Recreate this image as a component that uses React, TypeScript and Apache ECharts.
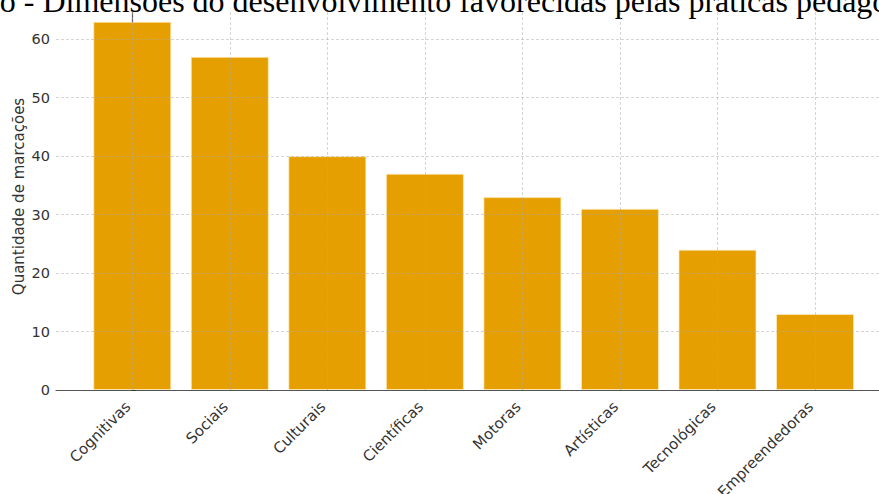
import React, { useEffect, useRef } from "react";
import * as echarts from "echarts";

const categories = [
  "Cognitivas",
  "Sociais",
  "Culturais",
  "Científicas",
  "Motoras",
  "Artísticas",
  "Tecnológicas",
  "Empreendedoras",
];
const values = [63, 57, 40, 37, 33, 31, 24, 13];
const yTicks = [0, 10, 20, 30, 40, 50, 60];
const titleText =
  "Gráfico - Dimensões do desenvolvimento favorecidas pelas práticas pedagógicas";
const yAxisTitle = "Quantidade de marcações";

export default function App() {
  const ref = useRef<HTMLDivElement>(null);

  useEffect(() => {
    if (!ref.current) return;
    const chart = echarts.init(ref.current, undefined, { renderer: "svg" });
    const xIdx = categories.map((_, i) => i);
    const gridStyle = {
      type: [3, 2] as number[],
      color: "rgba(170,170,170,0.55)",
      width: 0.9,
    };
    const option: any = {
      animation: false,
      backgroundColor: "#ffffff",
      grid: {
        left: 56,
        right: 0,
        top: 12,
        bottom: 104,
        containLabel: false,
        outerBoundsMode: "none",
      },
      xAxis: {
        type: "value",
        min: -0.782,
        max: 7.656,
        splitLine: { show: false },
        axisLine: { show: true, lineStyle: { color: "#555", width: 1.2 } },
        axisTick: {
          show: true,
          inside: true,
          length: 4,
          customValues: xIdx,
          lineStyle: { color: "#333", width: 1 },
        },
        axisLabel: {
          customValues: xIdx,
          rotate: 45,
          margin: 10,
          padding: [0, 6, 0, 0],
          fontFamily: "DejaVu Sans",
          fontSize: 15,
          color: "#333",
          formatter: (v: number) => categories[Math.round(v)] ?? "",
        },
      },
      yAxis: {
        type: "value",
        min: 0,
        max: 64.67,
        splitLine: { show: false },
        axisLine: { show: true, lineStyle: { color: "#555", width: 1.2 } },
        axisTick: {
          show: true,
          inside: true,
          length: 4,
          customValues: yTicks,
          lineStyle: { color: "#333", width: 1 },
        },
        axisLabel: {
          customValues: yTicks,
          margin: 6,
          fontFamily: "DejaVu Sans",
          fontSize: 14.5,
          color: "#333",
        },
      },
      graphic: [
        {
          type: "text",
          x: -82,
          y: 1,
          style: {
            text: titleText,
            font: "32px 'Liberation Serif'",
            fill: "#000",
            align: "left",
            verticalAlign: "middle",
          },
        },
        {
          type: "text",
          x: 18.5,
          y: 196.5,
          rotation: Math.PI / 2,
          style: {
            text: yAxisTitle,
            font: "15px 'DejaVu Sans'",
            fill: "#333",
            align: "center",
            verticalAlign: "middle",
          },
        },
      ],
      series: [
        {
          type: "bar",
          data: values.map((v, i) => [i, v]),
          barWidth: 78,
          itemStyle: {
            color: "#E69F00",
            borderColor: "rgba(255,235,190,0.7)",
            borderWidth: 1,
          },
          z: 2,
        },
        {
          type: "line",
          data: [],
          z: 10,
          markLine: {
            silent: true,
            symbol: "none",
            label: { show: false },
            lineStyle: gridStyle,
            data: [
              ...xIdx.map((i) => ({ xAxis: i })),
              ...yTicks.filter((t) => t > 0).map((t) => ({ yAxis: t })),
            ],
          },
        },
      ],
    };
    chart.setOption(option);
    return () => chart.dispose();
  }, []);

  return (
    <div
      ref={ref}
      style={{ position: "fixed", left: 0, top: 0, width: 879, height: 494 }}
    />
  );
}
